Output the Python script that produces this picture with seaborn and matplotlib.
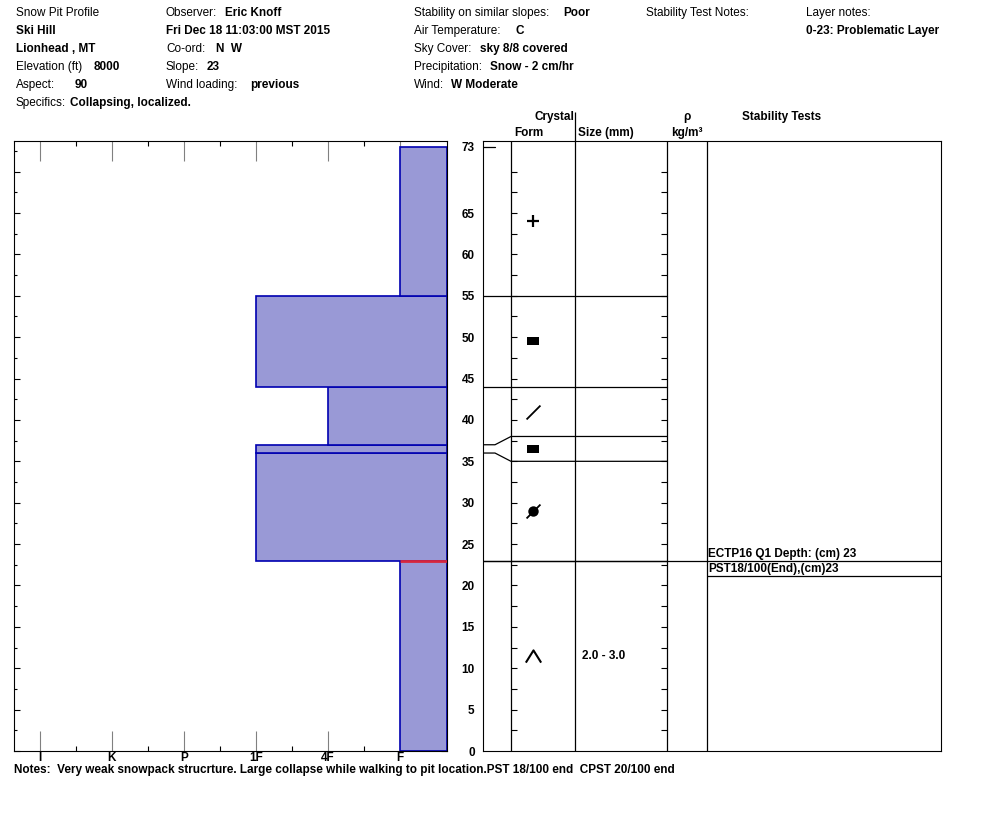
import numpy as np
import pandas as pd
import seaborn as sns
import matplotlib.pyplot as plt
from matplotlib.ticker import MultipleLocator

W, H = 994, 840

# snow layers (cm from ground), hand hardness, grain form and size
layer_bottom = [0, 23, 36, 37, 44, 55]
layer_top = [23, 36, 37, 44, 55, 73]
layer_hardness = ["F", "1F", "1F", "4F", "1F", "F"]
layer_form = ["DH", "FCxr", "FC", "DF", "FC", "PP"]
layer_size = ["2.0 - 3.0", "", "", "", "", ""]

hardness_labels = ["I", "K", "P", "1F", "4F", "F"]
hardness_values = [6, 5, 4, 3, 2, 1]

depth_labels = [0, 5, 10, 15, 20, 25, 30, 35, 40, 45, 50, 55, 60, 65, 73]

test_depth = [23, 23]
test_text = ["ECTP16 Q1 Depth: (cm) 23", "PST18/100(End),(cm)23"]
failure_depth = 23

# header texts: plain label, bold value
header_label = ["Snow Pit Profile", "", "", "Elevation (ft)", "Aspect:", "Specifics:",
                "Observer:", "", "Co-ord:", "Slope:", "Wind loading:",
                "Stability on similar slopes:", "Air Temperature:", "Sky Cover:",
                "Precipitation:", "Wind:", "Stability Test Notes:", "Layer notes:", ""]
header_value = ["", "Ski Hill", "Lionhead , MT", "8000", "90", "Collapsing, localized.",
                "Eric Knoff", "Fri Dec 18 11:03:00 MST 2015", "N  W", "23", "previous",
                "Poor", "C", "sky 8/8 covered", "Snow - 2 cm/hr", "W Moderate", "", "",
                "0-23: Problematic Layer"]
notes = "Notes:  Very weak snowpack strucrture. Large collapse while walking to pit location.PST 18/100 end  CPST 20/100 end"

# layout of header (label x, value x, row y) in pixels
header_pos = [(16, 16, 13), (16, 16, 31), (16, 16, 49), (16, 94, 67), (16, 75, 85), (16, 70, 103),
              (166, 225, 13), (166, 166, 31), (166, 216, 49), (166, 207, 67), (166, 250, 85),
              (414, 563, 13), (414, 516, 31), (414, 480, 49), (414, 490, 67), (414, 451, 85),
              (646, 646, 13), (806, 806, 13), (806, 806, 31)]

sns.set_theme(style="white", rc={"text.color": "black", "xtick.color": "black",
                                 "ytick.color": "black", "axes.edgecolor": "black"})
plt.rcParams["font.family"] = ["Liberation Sans", "DejaVu Sans"]
FS = 8.5

df = pd.DataFrame({"bottom": layer_bottom, "top": layer_top, "hardness": layer_hardness,
                   "form": layer_form, "size": layer_size})
df["h"] = df["hardness"].map(dict(zip(hardness_labels, hardness_values)))
df["thick"] = df["top"] - df["bottom"]

fig = plt.figure(figsize=(W / 100, H / 100), dpi=100)


def px_text(x, y, s, **kw):
    fig.text(x / W, 1 - y / H, s, fontsize=FS, va="center", color="black", **kw)


for lab, val, (xl, xv, y) in zip(header_label, header_value, header_pos):
    if lab:
        px_text(xl, y, lab)
    if val:
        px_text(xv, y, val, fontweight="bold")
px_text(14, 770, notes, fontweight="bold")

YTOP = 73.7
PX = 610 / YTOP  # pixels per cm

# ---- hardness profile ----
x_right = 1 - 47 / 72
x_left = 1 + 386 / 72
ax = fig.add_axes([14 / W, 1 - 751 / H, 433 / W, 610 / H])
ax.barh(df["bottom"], df["h"] - x_right, left=x_right, height=df["thick"], align="edge",
        color="#9999d6", edgecolor="#0000b0", linewidth=1.2)
below_h = df.loc[df["top"] == failure_depth, "h"].iloc[0]
ax.hlines(failure_depth, below_h, x_right, color="#d7263d", linewidth=2, zorder=3)
ax.set_xlim(x_left, x_right)
ax.set_ylim(0, YTOP)
ax.set_xticks(hardness_values)
ax.set_xticklabels(hardness_labels, fontweight="bold", fontsize=FS)
ax.set_xticks(np.array(hardness_values[:-1]) - 0.5, minor=True)
ax.tick_params(axis="x", which="major", direction="in", length=14.4, width=0.8, color="#808080",
               top=True, bottom=True, pad=1, labelcolor="black")
ax.tick_params(axis="x", which="minor", direction="in", length=3.6, width=0.8, color="black",
               top=True, bottom=True)
ax.yaxis.set_major_locator(MultipleLocator(5))
ax.yaxis.set_minor_locator(MultipleLocator(2.5))
ax.tick_params(axis="y", which="major", direction="in", length=4.3, width=0.8, color="black",
               left=True, right=True, labelleft=False)
ax.tick_params(axis="y", which="minor", direction="in", length=2.5, width=0.8, color="black",
               left=True, right=True)
for s in ax.spines.values():
    s.set_color("black")
    s.set_linewidth(0.8)

# ---- crystal / density / stability table ----
mx = fig.add_axes([483 / W, 1 - 751 / H, 458 / W, 610 / H])
mx.set_xlim(0, 458)
mx.set_ylim(0, YTOP)
mx.set_xticks([])
mx.set_yticks(depth_labels)
mx.set_yticklabels([str(d) for d in depth_labels], fontweight="bold", fontsize=FS)
mx.tick_params(axis="y", length=0, pad=6, left=True, labelcolor="black")
for s in mx.spines.values():
    s.set_color("black")
    s.set_linewidth(0.8)

c_form, c_size, c_rho, c_test = 28, 92, 184, 224
mx.vlines([c_form, c_size, c_rho, c_test], 0, YTOP, color="black", linewidth=0.9)
mx.vlines(c_size, YTOP, YTOP + 29 / PX, color="black", linewidth=0.9, clip_on=False)
ticks = np.arange(2.5, 71, 2.5)
mx.hlines(ticks, c_form, c_form + 6, color="black", linewidth=0.8)
mx.hlines(ticks, c_rho - 6, c_rho, color="black", linewidth=0.8)

# thin layers are widened in the crystal column
bounds = sorted(set(layer_bottom) | set(layer_top))
disp = {b: b for b in bounds}
for b, t in zip(layer_bottom, layer_top):
    if t - b < 3:
        c = (b + t) / 2
        disp[b] = c - 1.5
        disp[t] = c + 1.5
df["dmid"] = [(disp[b] + disp[t]) / 2 for b, t in zip(layer_bottom, layer_top)]

for b in bounds[1:]:
    if b == max(bounds):
        mx.plot([0, 12], [b, b], color="black", linewidth=0.9)
        continue
    mx.plot([0, 12, c_form, c_rho], [b, b, disp[b], disp[b]], color="black", linewidth=0.9)

# stability tests
for k, (d, txt) in enumerate(zip(test_depth, test_text)):
    yl = d - k * 15 / PX
    mx.hlines(yl, 0 if k == 0 else c_test, 458, color="black", linewidth=0.9)
    mx.text(c_test + 1, yl + 7 / PX, txt, fontsize=FS, fontweight="bold", va="center", ha="left")

# grain form symbols
sx = 50
for form, y, size in zip(df["form"], df["dmid"], df["size"]):
    if form == "PP":
        mx.plot(sx, y, marker="+", markersize=9, mew=1.6, color="black")
    elif form == "FC":
        mx.plot(sx, y, marker=[(-1.5, -1), (1.5, -1), (1.5, 1), (-1.5, 1), (-1.5, -1)],
                markersize=8.6, color="black", mew=0)
    elif form == "DF":
        mx.plot(sx, y, marker=[(-1, -1), (1, 1)], markersize=10, mew=1.3, color="black",
                mfc="none")
    elif form == "FCxr":
        mx.plot(sx, y, marker="o", markersize=7.5, color="black", mew=0)
        mx.plot(sx, y, marker=[(-1, -1), (1, 1)], markersize=10, mew=1.3, color="black",
                mfc="none")
    elif form == "DH":
        mx.plot(sx, y, marker=[(-1, -0.8), (0, 0.8), (1, -0.8)], markersize=11, mew=1.5,
                color="black", mfc="none")
    if size:
        mx.text(c_size + 7, y, size, fontsize=FS, fontweight="bold", va="center", ha="left")

# column headers
px_text(574, 117, "Crystal", fontweight="bold", ha="right")
px_text(529, 133, "Form", fontweight="bold", ha="center")
px_text(606, 133, "Size (mm)", fontweight="bold", ha="center")
px_text(687, 117, "ρ", fontweight="bold", ha="center")
px_text(687, 133, "kg/m³", fontweight="bold", ha="center")
px_text(782, 117, "Stability Tests", fontweight="bold", ha="center")

fig.savefig("out.png", dpi=100, facecolor="white")
